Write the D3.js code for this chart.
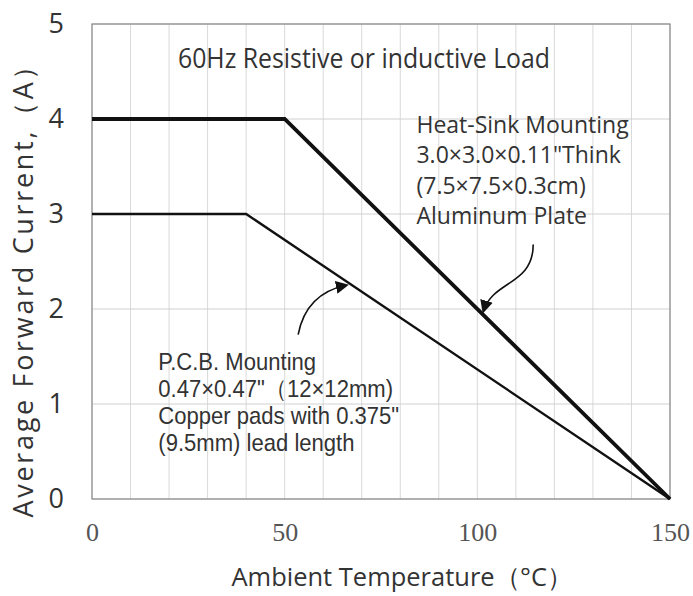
<!DOCTYPE html>
<html lang="en">
<head>
<meta charset="UTF-8">
<title>Forward Current Derating</title>
<style>
  body { margin: 0; background: #fff; }
  svg text { fill: #333; }
</style>
</head>
<body>
<svg id="chart" width="693" height="596"></svg>
<script src="https://cdn.jsdelivr.net/npm/d3@7"></script>
<script>
// curve data (ambient temp in C, forward current in A)
const heatSinkTemp = [0, 50, 150];
const heatSinkCurrent = [4, 4, 0];
const pcbTemp = [0, 40, 150];
const pcbCurrent = [3, 3, 0];

const xTicks = [0, 50, 100, 150];
const yTicks = [0, 1, 2, 3, 4, 5];
const xGrid = d3.range(0, 151, 10);

const topNote = '60Hz Resistive or inductive Load';
const heatSinkNote = ['Heat-Sink Mounting', '3.0\u00D73.0\u00D70.11"Think', '(7.5\u00D77.5\u00D70.3cm)', 'Aluminum  Plate'];
const pcbNote = ['P.C.B. Mounting', '0.47\u00D70.47"\uFF0812\u00D712mm)', 'Copper pads with 0.375"', '(9.5mm) lead length'];

// arrow paths in data units: start, two control points, end
const pcbArrow = [[53.5, 1.73], [55, 2.05], [60, 2.2], [66, 2.25]];
const heatSinkArrow = [[114.5, 2.68], [114.5, 2.25], [104, 2.3], [101.6, 1.98]];

var svg = d3.select('#chart');
var margin = { left: 92, right: 23, top: 24, bottom: 97 };
var width = 693 - margin.left - margin.right,
    height = 596 - margin.top - margin.bottom;

var x = d3.scaleLinear().domain([0, 150]).range([0, width]);
var y = d3.scaleLinear().domain([0, 5]).range([height, 0]);

var g = svg.append('g').attr('transform', 'translate(' + margin.left + ',' + margin.top + ')');

// grid
g.selectAll('.vgrid').data(xGrid).enter().append('line')
  .attr('x1', d => x(d)).attr('x2', d => x(d))
  .attr('y1', 0).attr('y2', height)
  .attr('stroke', '#d9d9d9').attr('stroke-width', 1);
g.selectAll('.hgrid').data(yTicks).enter().append('line')
  .attr('x1', 0).attr('x2', width)
  .attr('y1', d => y(d)).attr('y2', d => y(d))
  .attr('stroke', '#d0d0d0').attr('stroke-width', 1);

// frame
g.append('rect').attr('width', width).attr('height', height)
  .attr('fill', 'none').attr('stroke', '#8a8a8a').attr('stroke-width', 1.2);

// tick labels
var xAxis = d3.axisBottom(x).tickValues(xTicks).tickSize(0).tickPadding(24);
g.append('g').attr('transform', 'translate(0,' + height + ')').call(xAxis)
  .call(s => s.select('.domain').remove())
  .selectAll('text')
  .style('font-family', '"Liberation Serif", serif')
  .style('font-size', '26px').style('fill', '#555');

var yAxis = d3.axisLeft(y).tickValues(yTicks).tickFormat(d3.format('d')).tickSize(0).tickPadding(28);
g.append('g').call(yAxis)
  .call(s => s.select('.domain').remove())
  .selectAll('text')
  .style('font-family', '"Open Sans", sans-serif')
  .style('font-size', '27px').style('fill', '#333');

// curves
var line = d3.line().x(d => x(d[0])).y(d => y(d[1]));
g.append('path').datum(d3.zip(heatSinkTemp, heatSinkCurrent))
  .attr('d', line).attr('fill', 'none').attr('stroke', '#111').attr('stroke-width', 3.8);
g.append('path').datum(d3.zip(pcbTemp, pcbCurrent))
  .attr('d', line).attr('fill', 'none').attr('stroke', '#111').attr('stroke-width', 2.4);

// arrowhead marker
svg.append('defs').append('marker')
  .attr('id', 'head').attr('viewBox', '0 0 10 10')
  .attr('refX', 8).attr('refY', 5)
  .attr('markerWidth', 13).attr('markerHeight', 13)
  .attr('markerUnits', 'userSpaceOnUse')
  .attr('orient', 'auto')
  .append('path').attr('d', 'M0,0 L10,5 L0,10 z').attr('fill', '#111');

function bez(p) {
  return 'M' + x(p[0][0]) + ',' + y(p[0][1]) +
    ' C' + x(p[1][0]) + ',' + y(p[1][1]) + ' ' + x(p[2][0]) + ',' + y(p[2][1]) +
    ' ' + x(p[3][0]) + ',' + y(p[3][1]);
}
[pcbArrow, heatSinkArrow].forEach(function (p) {
  g.append('path').attr('d', bez(p))
    .attr('fill', 'none').attr('stroke', '#111').attr('stroke-width', 1.6)
    .attr('marker-end', 'url(#head)');
});

// notes (squeezed a bit sideways, the original font is narrow)
function note(lines, px, py, lh, font, size, sx) {
  var t = g.append('text')
    .attr('transform', 'translate(' + px + ',' + py + ') scale(' + sx + ',1)')
    .style('font-family', font).style('font-size', size + 'px');
  t.selectAll('tspan').data(lines).enter().append('tspan')
    .attr('x', 0).attr('y', (d, i) => i * lh)
    .text(d => d);
}
note([topNote], x(22.3), 44, 0, '"Open Sans", sans-serif', 27, 0.92);
note(heatSinkNote, x(84.2), 109, 30.3, '"Open Sans", sans-serif', 23, 1);
note(pcbNote, x(17.2), 346, 27, '"Liberation Sans", Arial, sans-serif', 24, 0.92);

// axis titles
svg.append('text').attr('x', 402).attr('y', 586).attr('text-anchor', 'middle')
  .attr('textLength', 341).attr('lengthAdjust', 'spacingAndGlyphs')
  .style('font-family', '"Open Sans", sans-serif').style('font-size', '26px')
  .text('Ambient Temperature\uFF08\u00B0C\uFF09');

svg.append('text').attr('transform', 'translate(33,285) rotate(-90)').attr('text-anchor', 'middle')
  .attr('textLength', 465).attr('lengthAdjust', 'spacing')
  .style('font-family', '"Open Sans", sans-serif').style('font-size', '27px')
  .text('Average Forward  Current,\uFF08A\uFF09');
</script>
</body>
</html>
